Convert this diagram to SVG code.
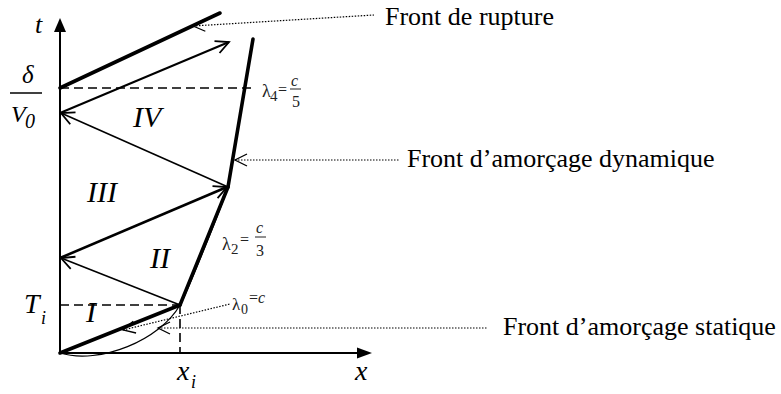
<svg xmlns="http://www.w3.org/2000/svg" width="781" height="394" viewBox="0 0 781 394">
<style>
.ax{stroke:#000;stroke-width:2;fill:none}
.thick{stroke:#000;stroke-width:3.6;fill:none;stroke-linecap:round}
.wave{stroke:#000;fill:none}
.dash{stroke:#000;stroke-width:1.6;stroke-dasharray:9 5;fill:none}
.lead{stroke:#000;stroke-width:1.2;stroke-dasharray:1.5 1.5;fill:none}
.thin{stroke:#000;stroke-width:1.2;fill:none}
.lbl{font-family:"Liberation Serif","Times New Roman",serif;fill:#000}
.it{font-style:italic}
.note{font-size:26px}
.rom{font-size:30px;font-style:italic}
.lam{fill:#222}
</style>
<defs>
<marker id="arr" viewBox="-16 -9 18 18" markerWidth="18" markerHeight="18" refX="0" refY="0" orient="auto" markerUnits="userSpaceOnUse">
<path d="M-13,-6.5 L0,0 L-13,6.5" fill="none" stroke="#000" stroke-width="1.8"/>
</marker>
<marker id="chev" viewBox="-16 -9 18 18" markerWidth="18" markerHeight="18" refX="0" refY="0" orient="auto-start-reverse" markerUnits="userSpaceOnUse">
<path d="M-12,-6 L0,0 L-12,6" fill="none" stroke="#000" stroke-width="1.3"/>
</marker>
</defs>

<g id="axes">
<line class="ax" x1="60" y1="354" x2="60" y2="30"/>
<polygon points="60,18 54,32 66,32" fill="#000"/>
<line class="ax" x1="59" y1="353" x2="360" y2="353"/>
<polygon points="372,353 357,347.5 357,358.5" fill="#000"/>
</g>

<g id="guides">
<line class="dash" x1="60" y1="88" x2="253" y2="88"/>
<line class="dash" x1="60" y1="305" x2="180" y2="305"/>
<line class="dash" x1="180" y1="305" x2="180" y2="353"/>
</g>

<g id="fronts">
<line class="thick" x1="60" y1="353" x2="180" y2="305"/>
<line class="thick" x1="180" y1="305" x2="228" y2="187"/>
<line class="thick" x1="228" y1="187" x2="253" y2="39"/>
<line class="thick" x1="60" y1="88" x2="220" y2="13"/>
<path class="thin" d="M60,353 C100,365 160,340 180,305 C188,291 221,208 228,187"/>
</g>

<g id="connectors">
<line class="wave" stroke-width="1.6" x1="180" y1="305" x2="61" y2="258" marker-end="url(#arr)"/>
<line class="wave" stroke-width="2.6" x1="60" y1="258" x2="227" y2="187" marker-end="url(#arr)"/>
<line class="wave" stroke-width="1.6" x1="228" y1="187" x2="61" y2="113" marker-end="url(#arr)"/>
<line class="wave" stroke-width="2" x1="60" y1="113" x2="229" y2="42" marker-end="url(#arr)"/>
</g>

<g id="leaders">
<line class="lead" x1="193" y1="26" x2="374" y2="15" marker-start="url(#chev)"/>
<line class="lead" x1="235" y1="160" x2="400" y2="160" marker-start="url(#chev)"/>
<line class="lead" x1="158" y1="328" x2="488" y2="328" marker-start="url(#chev)"/>
<line class="lead" x1="123" y1="330" x2="230" y2="304" marker-start="url(#chev)"/>
</g>

<g id="label-rupture"><text class="lbl note" x="385" y="25">Front de rupture</text></g>
<g id="label-dynamique"><text class="lbl note" x="407" y="167">Front d’amorçage dynamique</text></g>
<g id="label-statique"><text class="lbl note" x="503" y="335">Front d’amorçage statique</text></g>

<g id="axis-labels">
<text class="lbl it" x="35" y="33" font-size="26">t</text>
<text class="lbl it" x="22" y="83" font-size="25">δ</text>
<line x1="10" y1="93" x2="42" y2="93" stroke="#000" stroke-width="1.5"/>
<text class="lbl it" x="11" y="122" font-size="24">V</text>
<text class="lbl it" x="25" y="128" font-size="20">0</text>
<text class="lbl it" x="24" y="313" font-size="28">T</text>
<text class="lbl it" x="41" y="324" font-size="18">i</text>
<text class="lbl it" x="177" y="380" font-size="28">x</text>
<text class="lbl it" x="191" y="388" font-size="18">i</text>
<text class="lbl it" x="355" y="380" font-size="28">x</text>
</g>

<g id="regions">
<text class="lbl rom" x="133" y="127">IV</text>
<text class="lbl rom" x="87" y="202">III</text>
<text class="lbl rom" x="150" y="268">II</text>
<text class="lbl rom" x="86" y="322">I</text>
</g>

<g id="lambda-labels" class="lam">
<text class="lbl lam" x="232" y="310" font-size="17">λ</text>
<text class="lbl lam" x="241" y="314" font-size="14">0</text>
<text class="lbl lam" x="249" y="303" font-size="16">=<tspan font-style="italic">c</tspan></text>

<text class="lbl lam" x="222" y="250" font-size="18">λ</text>
<text class="lbl lam" x="231" y="254" font-size="15">2</text>
<text class="lbl lam" x="240" y="245" font-size="16">=</text>
<text class="lbl lam it" x="256" y="233" font-size="16">c</text>
<line x1="255" y1="237" x2="266" y2="237" stroke="#222" stroke-width="1"/>
<text class="lbl lam" x="256" y="256" font-size="16">3</text>

<text class="lbl lam" x="262" y="97" font-size="18">λ</text>
<text class="lbl lam" x="270" y="101" font-size="15">4</text>
<text class="lbl lam" x="278" y="95" font-size="16">=</text>
<text class="lbl lam it" x="291" y="86" font-size="16">c</text>
<line x1="290" y1="89" x2="301" y2="89" stroke="#222" stroke-width="1"/>
<text class="lbl lam" x="292" y="107" font-size="16">5</text>
</g>
</svg>
